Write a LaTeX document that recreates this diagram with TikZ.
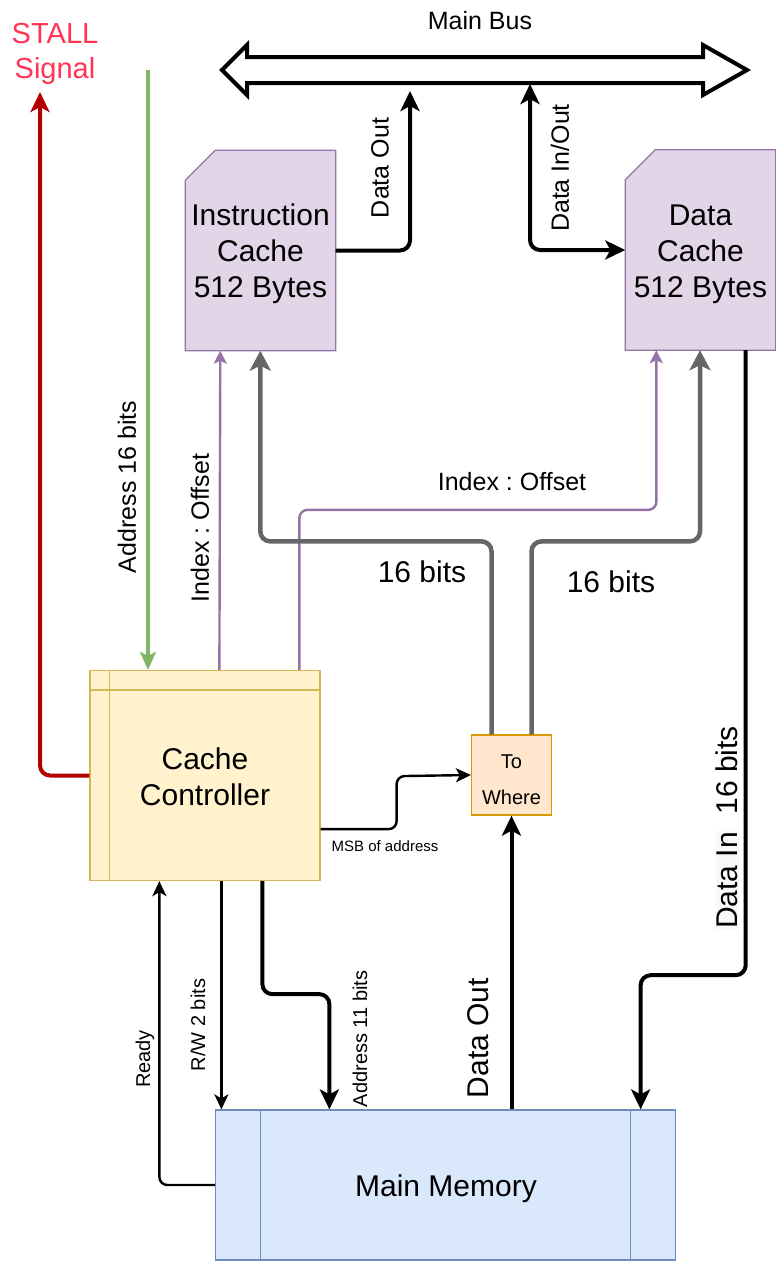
\documentclass[tikz,border=0pt]{standalone}
\usepackage{fontspec}
\setmainfont{Liberation Sans}
\frenchspacing
\usetikzlibrary{arrows.meta,calc,backgrounds}
\definecolor{purS}{HTML}{9673A6}
\definecolor{purF}{HTML}{E1D5E7}
\definecolor{yelS}{HTML}{D6B656}
\definecolor{yelF}{HTML}{FFF2CC}
\definecolor{oraS}{HTML}{D79B00}
\definecolor{oraF}{HTML}{FFE6CC}
\definecolor{bluS}{HTML}{6C8EBF}
\definecolor{bluF}{HTML}{DAE8FC}
\definecolor{gry}{HTML}{666666}
\definecolor{grn}{HTML}{82B366}
\definecolor{redL}{HTML}{B20000}
\definecolor{stallc}{HTML}{FF3355}
\definecolor{lblbg}{HTML}{F8F9FA}
\tikzset{
  fA/.style={font=\fontsize{30}{36}\selectfont},
  fB/.style={font=\fontsize{25}{30}\selectfont},
  fC/.style={font=\fontsize{20}{36}\selectfont},
  fD/.style={font=\fontsize{15}{18}\selectfont},
  cardbox/.style={minimum width=150pt, minimum height=200pt, inner sep=0pt},
  txt/.style={inner sep=0pt, align=center},
  boxbase/.style={draw, line width=1.25pt, inner sep=0pt, align=center},
  thk/.style={line width=4pt, rounded corners=10pt},
  thn/.style={line width=2.4pt, rounded corners=8pt},
  bigtip/.style={-{Stealth[length=20pt,width=19pt,inset=5pt]}},
  smalltip/.style={-{Stealth[length=15pt,width=14pt,inset=4pt]}},
  graypath/.style={draw=gry, line width=4.5pt, rounded corners=10pt, -{Stealth[length=20pt,width=21pt,inset=5pt]}},
  purpath/.style={draw=purS, line width=2.4pt, rounded corners=8pt, -{Stealth[length=13pt,width=13pt,inset=3pt]}},
}
\begin{document}
\begin{tikzpicture}[x=1pt,y=-1pt]
\useasboundingbox (0,0) rectangle (776,1261);

% Main bus (double outline arrow)
\draw[line width=4pt, line join=miter, fill=white]
  (222,70) -- (247,45) -- (247,57) -- (703,57) -- (703,45) -- (747,70)
  -- (703,95) -- (703,83) -- (247,83) -- (247,95) -- cycle;
\coordinate (busDO) at (410,91);
\coordinate (busDIO) at (530,84);
\node[fB] (lbus) at (480,21) {Main Bus};

% Caches
\node[cardbox] (ic) at (260.5,250.5) {};
\node[cardbox] (dc) at (700.5,250) {};
\draw[draw=purS, fill=purF, line width=1.25pt]
  ([yshift=-30pt]ic.north west) -- ([xshift=30pt]ic.north west) -- (ic.north east)
  -- (ic.south east) -- (ic.south west) -- cycle;
\draw[draw=purS, fill=purF, line width=1.25pt]
  ([yshift=-30pt]dc.north west) -- ([xshift=30pt]dc.north west) -- (dc.north east)
  -- (dc.south east) -- (dc.south west) -- cycle;
\node[txt, fA] (icT) at (260.5,254) {Instruction\\Cache\\512 Bytes};
\node[txt, fA] (dcT) at (700.5,254) {Data\\Cache\\512 Bytes};

% Cache controller
\node[boxbase, draw=yelS, fill=yelF, minimum width=230pt, minimum height=210pt] (cc) at (205,775.5) {};
\draw[yelS, line width=1.25pt] ([xshift=20pt]cc.north west) -- ([xshift=20pt]cc.south west);
\draw[yelS, line width=1.25pt] ([yshift=-20pt]cc.north west) -- ([yshift=-20pt]cc.north east);
\node[txt, fA] (ccT) at (205,776.5) {Cache\\Controller};

% To Where
\node[boxbase, draw=oraS, fill=oraF, minimum width=80pt, minimum height=80pt] (tw) at (511.5,775) {};
\node[txt, fC] (twT) at (511.5,779.5) {To\\Where};

% Main memory
\node[boxbase, draw=bluS, fill=bluF, minimum width=460pt, minimum height=150pt] (mm) at (445.7,1185) {};
\draw[bluS, line width=1.25pt] ([xshift=45.5pt]mm.north west) -- ([xshift=45.5pt]mm.south west);
\draw[bluS, line width=1.25pt] ([xshift=-45.5pt]mm.north east) -- ([xshift=-45.5pt]mm.south east);
\node[txt, fA] (mmT) at (446,1188.5) {Main Memory};

% STALL signal
\node[text=stallc, align=center, font=\fontsize{29}{35}\selectfont] (stall) at (55,54) {STALL\\Signal};
\coordinate (stallTip) at (40,92);
\draw[thk, draw=redL, -{Stealth[length=20pt,width=19pt,inset=5pt]}] (cc.west) -| (stallTip);

% Address 16 bits (green)
\coordinate (addrTop) at (148,70);
\draw[draw=grn, line width=3.5pt, -{Stealth[length=18pt,width=16pt,inset=4pt]}] (addrTop) -- (addrTop |- cc.north);
\node[fB, rotate=90] (lA16) at (127,487) {Address 16 bits};

% Index : Offset (purple)
\draw[purpath] ([xshift=130pt]cc.north west) -- ([xshift=35pt]ic.south west);
\node[fB, rotate=90] (lIO1) at (200,528) {Index : Offset};
\draw[purpath] ([xshift=210pt]cc.north west) -- ++(0,-160) -| ([xshift=31pt]dc.south west);
\node[fB] (lIO2) at (512,482) {Index : Offset};

% 16 bits (gray)
\draw[graypath] ([xshift=-20pt]tw.north) -- ++(0,-193) -| ([xshift=75pt]ic.south west);
\draw[graypath] ([xshift=20pt]tw.north) -- ++(0,-193) -| ([xshift=-0.5pt]dc.south);
\node[fA] (l16a) at (422,572) {16 bits};
\node[fA] (l16b) at (611,582) {16 bits};

% Data Out (icache to bus)
\draw[thk, bigtip] (ic.east) -| (busDO);
\node[fB, rotate=90] (lDO) at (380,168) {Data Out};
% Data In/Out
\draw[thk, {Stealth[length=20pt,width=19pt,inset=5pt]}-{Stealth[length=20pt,width=19pt,inset=5pt]}] (busDIO) |- (dc.west);
\node[fB, rotate=90] (lDIO) at (560,168) {Data In/Out};

% MSB of address
\draw[thn, smalltip] ([yshift=52pt]cc.south east) -- ++(76,0) -- ++(0,-53) -- (tw.west);
\node[fD] (lmsb) at (385,846) {MSB of address};

% Data Out (memory to To Where)
\draw[thk, bigtip] (tw.south |- mm.north) -- (tw.south);
\node[fA, rotate=90] (ldo2) at (478,1038) {Data Out};

% Data In 16 bits
\draw[thk, bigtip] ([xshift=-30pt]dc.south east) -- ++(0,625) -| ([xshift=-35.7pt]mm.north east);
\node[fA, rotate=90] (ldin) at (727,828) {{\setlength{\fboxsep}{1pt}\colorbox{lblbg}{Data In}}\ \ 16 bits};

% Ready
\draw[thn, smalltip] (mm.west) -| ([xshift=70pt]cc.south west);
\node[fC, rotate=90] (lrdy) at (145,1059) {Ready};

% R/W 2 bits
\draw[thn, smalltip] ([xshift=132pt]cc.south west) -- ([xshift=132pt]cc.south west |- mm.north);
\node[fC, rotate=90] (lrw) at (198,1025) {R/W 2 bits};

% Address 11 bits
\draw[thk, bigtip] ([xshift=173pt]cc.south west) -- ++(0,113) -| ([xshift=114.3pt]mm.north west);
\node[fC, rotate=90] (la11) at (360,1039) {Address 11 bits};
\end{tikzpicture}
\end{document}
